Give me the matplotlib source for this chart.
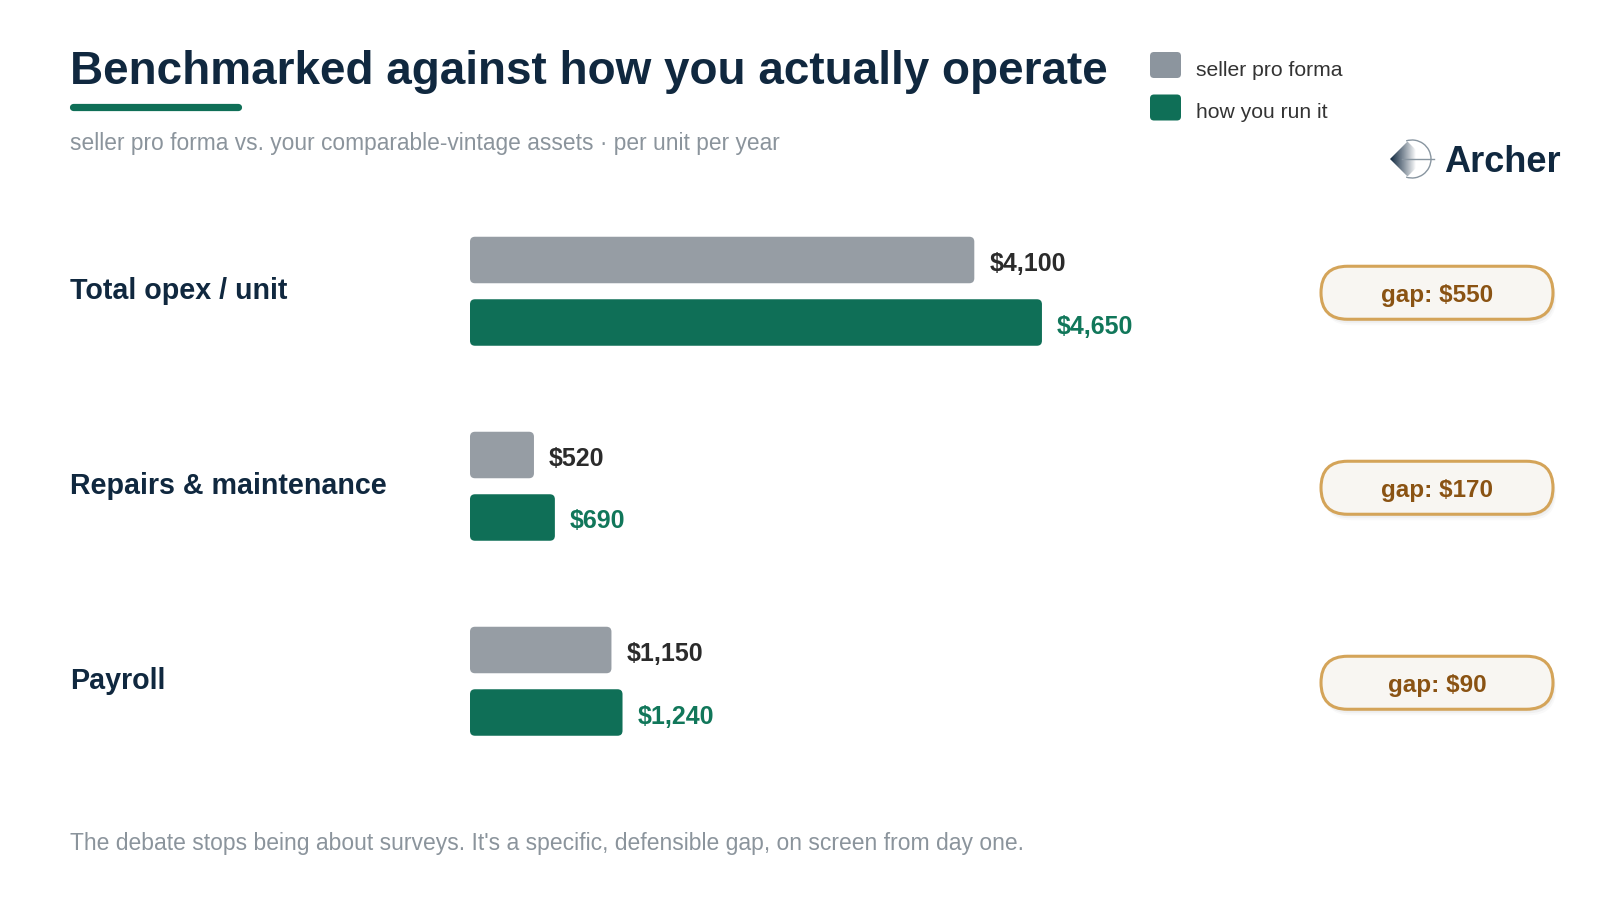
import matplotlib.pyplot as plt
import numpy as np
from matplotlib.patches import FancyBboxPatch, Arc, Polygon
from matplotlib.colors import to_rgb

plt.rcParams['font.family'] = ['Liberation Sans', 'DejaVu Sans']

categories = ["Total opex / unit", "Repairs & maintenance", "Payroll"]
seller_pro_forma = [4100, 520, 1150]
how_you_run_it = [4650, 690, 1240]
series_labels = ["seller pro forma", "how you run it"]

NAVY = '#10283f'
GRAY_BAR = '#969da4'
GRAY_KEY = '#8c959e'
GREEN = '#0f6f57'
GREEN_TXT = '#11775a'
MUTED = '#8b949c'
GOLD = '#d4a459'
BROWN = '#8a5313'


def rounded_bar(ax, x0, yc, w, h, color, r_px, px_per_x):
    # radius in x units, mutation_aspect squashes it back for pixel y units
    r = r_px / px_per_x
    p = FancyBboxPatch((x0, yc - h / 2), w, h,
                       boxstyle=f"round,pad=0,rounding_size={r}",
                       mutation_aspect=px_per_x, fc=color, ec='none')
    ax.add_patch(p)


def draw_logo(ax, x0, yc):
    # diamond with a navy gradient fading to the right
    half = 17.5
    diamond = Polygon([[x0, yc], [x0 + half, yc - half], [x0 + 2 * half, yc],
                       [x0 + half, yc + half]], closed=True, fc='none', ec='none')
    ax.add_patch(diamond)
    n = 64
    grad = np.zeros((2, n, 4))
    grad[..., :3] = to_rgb(NAVY)
    t = np.linspace(0, 1, n)
    grad[..., 3] = np.clip(1 - t * 1.35, 0, 1) ** 0.9
    im = ax.imshow(grad, extent=[x0, x0 + 2 * half, yc + half, yc - half],
                   interpolation='bilinear', zorder=2)
    im.set_clip_path(diamond)
    ax.add_patch(Arc((x0 + 22, yc), 38, 38, theta1=-108, theta2=108,
                     color='#8895a0', lw=1.0, zorder=3))
    ax.plot([x0 + 12, x0 + 44], [yc, yc], color='#8895a0', lw=1.0, zorder=3)


def draw_chart():
    fig = plt.figure(figsize=(16, 9), dpi=100)
    fig.patch.set_facecolor('white')

    # overlay axes in pixel coordinates for text and decoration
    ax = fig.add_axes([0, 0, 1, 1])
    ax.set_xlim(0, 1600)
    ax.set_ylim(900, 0)
    ax.set_aspect('auto')
    ax.axis('off')

    # bar axes: x in dollars, y in pixels
    bar_left, bar_width_px, xmax = 470, 615, 5000
    bx = fig.add_axes([bar_left / 1600, 0, bar_width_px / 1600, 1])
    bx.set_xlim(0, xmax)
    bx.set_ylim(900, 0)
    bx.axis('off')
    bx.patch.set_alpha(0)
    px_per_x = bar_width_px / xmax

    # --- header ---
    ax.text(70, 84, "Benchmarked against how you actually operate", fontsize=33,
            fontweight='bold', color=NAVY, va='baseline', ha='left')
    ax.plot([73, 238], [107, 107], color=GREEN, lw=5.2, solid_capstyle='round')
    ax.text(70, 150, "seller pro forma vs. your comparable-vintage assets \u00b7 per unit per year",
            fontsize=16.4, color=MUTED, va='baseline', ha='left')

    # legend
    for i, (lab, col) in enumerate(zip(series_labels, [GRAY_KEY, GREEN])):
        y = 65 + i * 42.5
        ax.add_patch(FancyBboxPatch((1150, y - 13), 31, 26,
                                    boxstyle="round,pad=0,rounding_size=4",
                                    fc=col, ec='none'))
        ax.text(1196, y + 5, lab, fontsize=15.2, color='#333333', va='center', ha='left')

    # logo
    draw_logo(ax, 1390, 159)
    ax.text(1444, 162, "Archer", fontsize=26, fontweight='bold', color=NAVY,
            va='center', ha='left')
    ax.set_xlim(0, 1600)
    ax.set_ylim(900, 0)

    # --- rows ---
    row_top, row_step, bar_h, bar_gap = 260, 195, 46.5, 62.5
    for i, cat in enumerate(categories):
        y_gray = row_top + i * row_step
        y_green = y_gray + bar_gap
        y_mid = (y_gray + y_green) / 2
        ax.text(70, y_mid + 8, cat, fontsize=20.6, fontweight='bold', color=NAVY,
                va='baseline', ha='left')

        rounded_bar(bx, 0, y_gray, seller_pro_forma[i], bar_h, GRAY_BAR, 5, px_per_x)
        rounded_bar(bx, 0, y_green, how_you_run_it[i], bar_h, GREEN, 5, px_per_x)
        off = 15 / px_per_x
        bx.text(seller_pro_forma[i] + off, y_gray + 4, f"${seller_pro_forma[i]:,}",
                fontsize=18, fontweight='bold', color='#2b2b2b', va='center', ha='left',
                clip_on=False)
        bx.text(how_you_run_it[i] + off, y_green + 4, f"${how_you_run_it[i]:,}",
                fontsize=18, fontweight='bold', color=GREEN_TXT, va='center', ha='left',
                clip_on=False)

        # gap pill
        gap = how_you_run_it[i] - seller_pro_forma[i]
        py = y_mid + 1.5
        pw, ph, px0 = 232, 53, 1321
        for s, al in [(6, 0.025), (4, 0.035), (2, 0.04)]:
            ax.add_patch(FancyBboxPatch((px0 + s / 2, py - ph / 2 + s), pw, ph,
                                        boxstyle=f"round,pad=0,rounding_size={ph / 2}",
                                        fc='#000000', ec='none', alpha=al))
        ax.add_patch(FancyBboxPatch((px0, py - ph / 2), pw, ph,
                                    boxstyle=f"round,pad=0,rounding_size={ph / 2}",
                                    fc='#f8f6f2', ec=GOLD, lw=2.2))
        ax.text(px0 + pw / 2, py + 3, f"gap: ${gap:,}", fontsize=17.5, fontweight='bold',
                color=BROWN, va='center', ha='center')

    # footer
    ax.text(70, 850, "The debate stops being about surveys. It's a specific, defensible gap, "
            "on screen from day one.", fontsize=16.5, color=MUTED, va='baseline', ha='left')

    fig.savefig('out.png', dpi=100, facecolor='white')


if __name__ == "__main__":
    draw_chart()
